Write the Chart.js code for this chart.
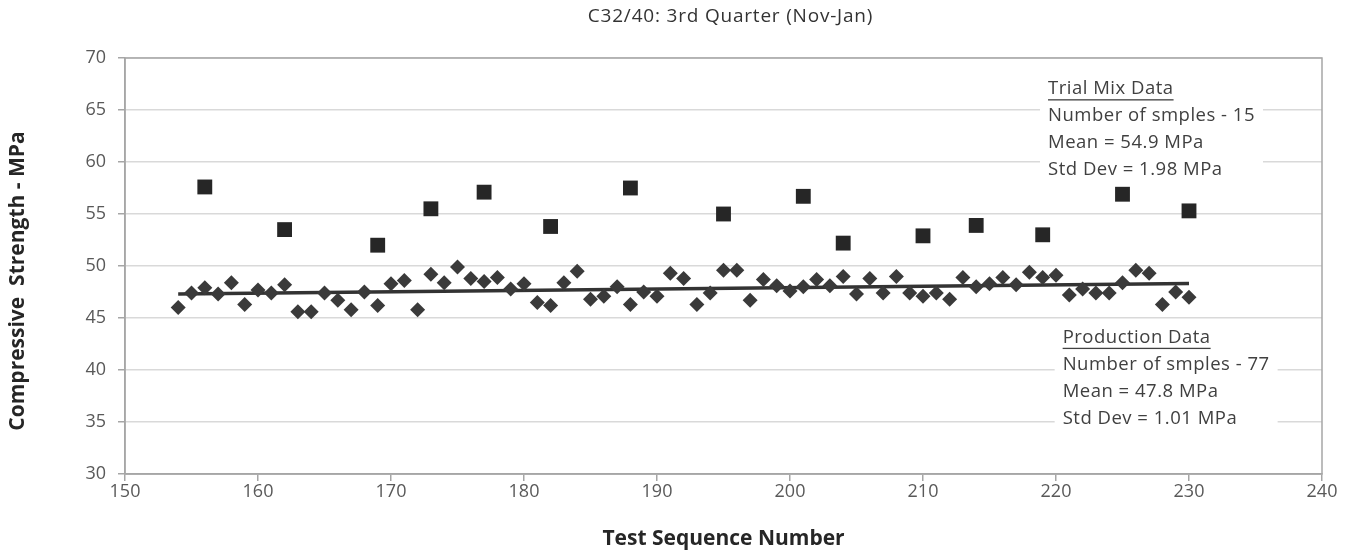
<!DOCTYPE html>
<html>
<head>
<meta charset="utf-8">
<script src="https://cdn.jsdelivr.net/npm/chart.js@4"></script>
<style>
  html, body { margin: 0; padding: 0; background: #fff; }
  #wrap { width: 1351px; height: 555px; }
</style>
</head>
<body>
<div id="wrap"><canvas id="chart"></canvas></div>
<script>
// trial mix results (squares)
const trialSeq = [156, 162, 169, 173, 177, 182, 188, 195, 201, 204, 210, 214, 219, 225, 230];
const trialMPa = [57.6, 53.5, 52.0, 55.5, 57.1, 53.8, 57.5, 55.0, 56.7, 52.2, 52.9, 53.9, 53.0, 56.9, 55.3];

// production results (diamonds)
const prodSeq = [154, 155, 156, 157, 158, 159, 160, 161, 162, 163, 164, 165, 166, 167, 168, 169, 170,
  171, 172, 173, 174, 175, 176, 177, 178, 179, 180, 181, 182, 183, 184, 185, 186, 187, 188, 189, 190,
  191, 192, 193, 194, 195, 196, 197, 198, 199, 200, 201, 202, 203, 204, 205, 206, 207, 208, 209, 210,
  211, 212, 213, 214, 215, 216, 217, 218, 219, 220, 221, 222, 223, 224, 225, 226, 227, 228, 229, 230];
const prodMPa = [46.0, 47.4, 47.9, 47.3, 48.4, 46.3, 47.7, 47.4, 48.2, 45.6, 45.6, 47.4, 46.7, 45.8, 47.5, 46.2, 48.3,
  48.6, 45.8, 49.2, 48.4, 49.9, 48.8, 48.5, 48.9, 47.8, 48.3, 46.5, 46.2, 48.4, 49.5, 46.8, 47.1, 48.0, 46.3, 47.5, 47.1,
  49.3, 48.8, 46.3, 47.4, 49.6, 49.6, 46.7, 48.7, 48.1, 47.6, 48.0, 48.7, 48.1, 49.0, 47.3, 48.8, 47.4, 49.0, 47.4, 47.1,
  47.4, 46.8, 48.9, 48.0, 48.3, 48.9, 48.2, 49.4, 48.9, 49.1, 47.2, 47.8, 47.4, 47.4, 48.4, 49.6, 49.3, 46.3, 47.5, 47.0];

const xTicks = [150, 160, 170, 180, 190, 200, 210, 220, 230, 240];
const yTicks = [30, 35, 40, 45, 50, 55, 60, 65, 70];

const chartTitle = 'C32/40: 3rd Quarter (Nov-Jan)';
const yTitle = 'Compressive  Strength - MPa';
const trialNotes = ['Trial Mix Data', 'Number of smples - 15', 'Mean = 54.9 MPa', 'Std Dev = 1.98 MPa'];
const prodNotes = ['Production Data', 'Number of smples - 77', 'Mean = 47.8 MPa', 'Std Dev = 1.01 MPa'];

const FONT = '"Open Sans", Lato, sans-serif';

// least squares trend of the production data
function trend(xs, ys) {
  const n = xs.length;
  let sx = 0, sy = 0, sxx = 0, sxy = 0;
  for (let i = 0; i < n; i++) {
    sx += xs[i]; sy += ys[i]; sxx += xs[i] * xs[i]; sxy += xs[i] * ys[i];
  }
  const b = (n * sxy - sx * sy) / (n * sxx - sx * sx);
  const a = (sy - b * sx) / n;
  const x0 = xs[0], x1 = xs[n - 1];
  return [{x: x0, y: a + b * x0}, {x: x1, y: a + b * x1}];
}

const toPts = (xs, ys) => xs.map((x, i) => ({x: x, y: ys[i]}));

// frame round the plot area, the text boxes, the titles
const extras = {
  id: 'extras',
  beforeDatasetsDraw(chart) {
    const ctx = chart.ctx;
    const a = chart.chartArea;
    const xs = chart.scales.x, ys = chart.scales.y;
    ctx.save();
    ctx.strokeStyle = '#a6a6a6';
    ctx.lineWidth = 1.5;
    ctx.strokeRect(a.left, a.top, a.right - a.left, a.bottom - a.top);

    function box(lines, x, y) {
      ctx.font = '18.5px ' + FONT;
      ctx.letterSpacing = '0.5px';
      const lh = 27;
      let w = 0;
      lines.forEach(t => { w = Math.max(w, ctx.measureText(t).width); });
      ctx.fillStyle = '#fff';
      ctx.fillRect(x - 8, y - 14, w + 16, lh * lines.length + 4);
      ctx.fillStyle = '#404040';
      ctx.textBaseline = 'middle';
      ctx.textAlign = 'left';
      lines.forEach((t, i) => {
        const ty = y + i * lh;
        ctx.fillText(t, x, ty);
        if (i === 0) {
          const tw = ctx.measureText(t).width;
          ctx.fillRect(x, ty + 10, tw, 1.3);
        }
      });
    }
    box(trialNotes, xs.getPixelForValue(219.4), ys.getPixelForValue(67.0));
    box(prodNotes, xs.getPixelForValue(220.5), ys.getPixelForValue(43.1));
    ctx.restore();
  },
  afterDraw(chart) {
    const ctx = chart.ctx;
    const a = chart.chartArea;
    ctx.save();
    ctx.textAlign = 'center';
    ctx.textBaseline = 'middle';
    ctx.fillStyle = '#333';
    ctx.font = '19px ' + FONT;
    ctx.letterSpacing = '0.8px';
    ctx.fillText(chartTitle, (a.left + a.right) / 2 + 7, 17);

    ctx.letterSpacing = '0px';
    ctx.fillStyle = '#262626';
    ctx.font = 'bold 21px ' + FONT;
    ctx.translate(18, 281);
    ctx.rotate(-Math.PI / 2);
    ctx.fillText(yTitle, 0, 0);
    ctx.restore();
  }
};

new Chart(document.getElementById('chart'), {
  type: 'scatter',
  data: {
    datasets: [
      {
        label: 'Trial Mix',
        data: toPts(trialSeq, trialMPa),
        pointStyle: 'rect',
        pointRadius: 10.5,
        backgroundColor: '#262626',
        borderColor: '#262626',
        borderWidth: 0,
        order: 1,
      },
      {
        label: 'Production',
        data: toPts(prodSeq, prodMPa),
        pointStyle: 'rectRot',
        pointRadius: 7.5,
        backgroundColor: '#3a3a3a',
        borderColor: '#3a3a3a',
        borderWidth: 0,
        order: 1,
      },
      {
        type: 'line',
        label: 'Trend',
        data: trend(prodSeq, prodMPa),
        borderColor: '#333',
        borderWidth: 3.5,
        pointRadius: 0,
        fill: false,
        order: 2,
      },
    ],
  },
  options: {
    responsive: true,
    maintainAspectRatio: false,
    animation: false,
    layout: { padding: { left: 0, right: 29, top: 58, bottom: 0 } },
    plugins: {
      legend: { display: false },
      tooltip: { enabled: false },
      title: { display: false },
    },
    scales: {
      x: {
        type: 'linear',
        min: 150,
        max: 240,
        afterBuildTicks: s => { s.ticks = xTicks.map(v => ({value: v})); },
        afterFit: s => { s.height = 81; },
        border: { color: '#a6a6a6', width: 1.5 },
        grid: { drawOnChartArea: false, color: '#a6a6a6', tickLength: 7, lineWidth: 1.5 },
        ticks: { color: '#595959', font: { family: FONT, size: 18 }, padding: 0, maxRotation: 0 },
        title: {
          display: true,
          text: 'Test Sequence Number',
          color: '#262626',
          font: { family: FONT, size: 21, weight: 'bold' },
          padding: { top: 12, bottom: 3 },
        },
      },
      y: {
        min: 30,
        max: 70,
        afterBuildTicks: s => { s.ticks = yTicks.map(v => ({value: v})); },
        afterFit: s => { s.width = 125; },
        border: { color: '#a6a6a6', width: 1.5 },
        grid: { color: '#d9d9d9', tickColor: '#a6a6a6', tickLength: 7, lineWidth: 1.5 },
        ticks: { color: '#595959', font: { family: FONT, size: 18 }, padding: 12 },
        title: { display: false },
      },
    },
  },
  plugins: [extras],
});
</script>
</body>
</html>
